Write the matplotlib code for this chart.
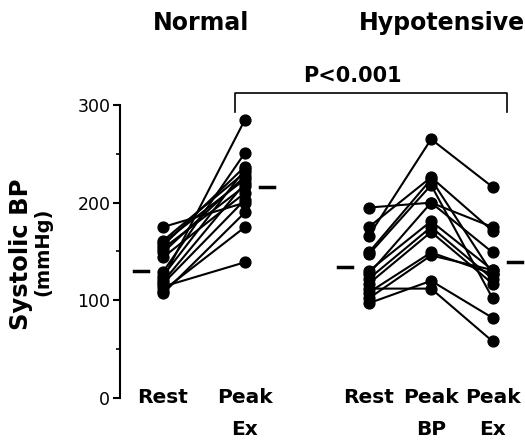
import matplotlib
matplotlib.use("Agg")
import matplotlib.pyplot as plt

# systolic BP (mmHg), one entry per subject
normal_rest = [175, 161, 159, 156, 153, 149, 144, 129, 122, 119, 114, 110, 107, 125, 117]
normal_peak_ex = [200, 231, 224, 237, 217, 227, 210, 251, 285, 220, 139, 175, 190, 234, 203]

hypo_rest = [195, 175, 166, 149, 147, 130, 127, 122, 117, 112, 108, 102, 97]
hypo_peak_bp = [200, 226, 265, 224, 218, 181, 200, 175, 170, 112, 149, 146, 120]
hypo_peak_ex = [175, 171, 216, 127, 102, 131, 149, 122, 117, 58, 127, 131, 82]

# group means (short dashes)
normal_means = [130, 216]
hypo_means = [134, 139]

normal_x = [1.0, 2.0]
hypo_x = [3.51, 4.27, 5.02]
top_labels = ["Rest", "Peak", "Rest", "Peak", "Peak"]
bottom_labels = ["", "Ex", "", "BP", "Ex"]

W, H = 525, 440
fig = plt.figure(figsize=(W / 100, H / 100), dpi=100)
ax = fig.add_axes([120 / W, 42 / H, 405 / W, 293 / H])

mk = dict(color="black", marker="o", markersize=7.8, linewidth=1.5, clip_on=False)
for r, p in zip(normal_rest, normal_peak_ex):
    ax.plot(normal_x, [r, p], **mk)
for r, b, e in zip(hypo_rest, hypo_peak_bp, hypo_peak_ex):
    ax.plot(hypo_x, [r, b, e], **mk)

# mean dashes
off, half = 0.27, 0.085
for x, m in [(normal_x[0] - off, normal_means[0]), (normal_x[1] + off, normal_means[1]),
             (hypo_x[0] - off - 0.02, hypo_means[0]), (hypo_x[2] + off, hypo_means[1])]:
    ax.plot([x - half, x + half], [m, m], color="black", linewidth=2.5, clip_on=False)

ax.set_xlim(0.476, 5.415)
ax.set_ylim(0, 300)
for s in ["top", "right", "bottom"]:
    ax.spines[s].set_visible(False)
ax.spines["left"].set_linewidth(1.5)
ax.set_xticks([])
ax.set_yticks([0, 100, 200, 300])
ax.set_yticks([50, 150, 250], minor=True)
ax.tick_params(axis="y", which="major", length=5, width=1.5, pad=2, labelsize=12.5)
ax.tick_params(axis="y", which="minor", length=3, width=1.2)

xs = normal_x + hypo_x
for x, t1, t2 in zip(xs, top_labels, bottom_labels):
    ax.text(x, -5, t1, ha="center", va="baseline", fontsize=14.5, fontweight="bold", clip_on=False)
    if t2:
        ax.text(x, -38, t2, ha="center", va="baseline", fontsize=14.5, fontweight="bold", clip_on=False)

# significance bracket
ax.plot([1.878, 1.878, 5.195, 5.195], [292.8, 312.3, 312.3, 292.8], color="black",
        linewidth=1.2, clip_on=False)

fig.text(201 / W, 1 - 30 / H, "Normal", ha="center", va="baseline", fontsize=17, fontweight="bold")
fig.text(442 / W, 1 - 30 / H, "Hypotensive", ha="center", va="baseline", fontsize=17, fontweight="bold")
fig.text(352 / W, 1 - 82 / H, "P<0.001", ha="center", va="baseline", fontsize=15, fontweight="bold")

fig.text(21 / W, 1 - 254 / H, "Systolic BP", rotation=90, ha="center", va="center",
         fontsize=17.5, fontweight="bold")
fig.text(43 / W, 1 - 252 / H, "(mmHg)", rotation=90, ha="center", va="center",
         fontsize=14, fontweight="bold")

fig.savefig("out.png", dpi=100)
